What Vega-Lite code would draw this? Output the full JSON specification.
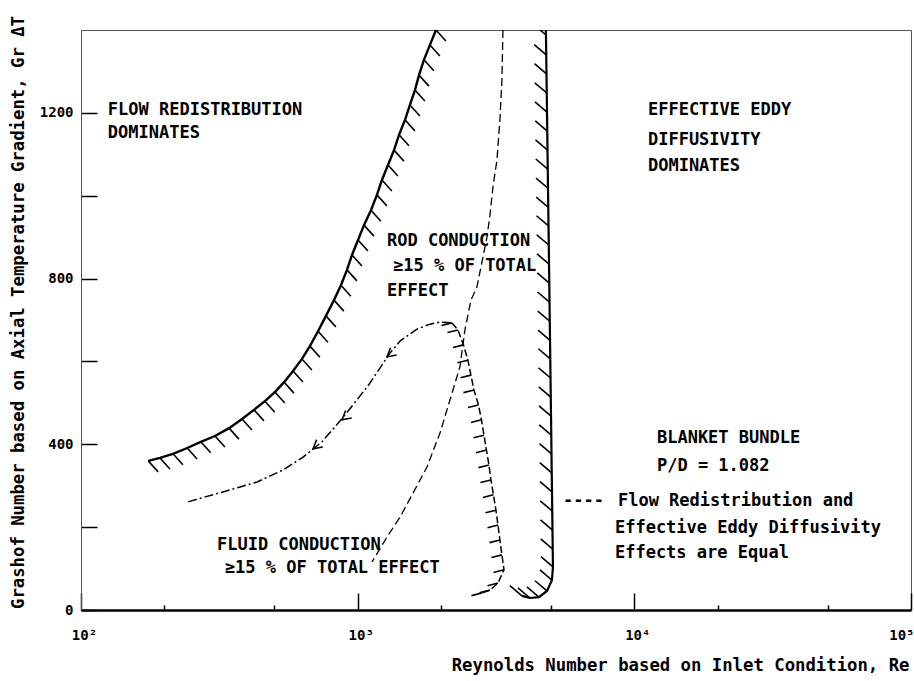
{
  "$schema": "https://vega.github.io/schema/vega-lite/v6.json",
  "width": 830,
  "height": 580,
  "autosize": {"type": "none"},
  "padding": {"left": 81, "top": 30, "right": 3, "bottom": 71},
  "background": "white",
  "config": {
    "view": {"stroke": "#555", "strokeWidth": 1},
    "font": "DejaVu Sans Mono",
    "axis": {"labelFont": "DejaVu Sans Mono", "titleFont": "DejaVu Sans Mono", "labelColor": "black", "titleColor": "black", "titleFontWeight": "bold", "labelFontWeight": "bold", "grid": false}
  },
  "datasets": {
    "redistribution": [
      {"Re": 1919, "Gr": 1400}, {"Re": 1825, "Gr": 1364}, {"Re": 1736, "Gr": 1328}, {"Re": 1666, "Gr": 1291},
      {"Re": 1611, "Gr": 1255}, {"Re": 1545, "Gr": 1219}, {"Re": 1483, "Gr": 1183}, {"Re": 1411, "Gr": 1147},
      {"Re": 1353, "Gr": 1110}, {"Re": 1287, "Gr": 1074}, {"Re": 1224, "Gr": 1038}, {"Re": 1174, "Gr": 1002},
      {"Re": 1117, "Gr": 965}, {"Re": 1054, "Gr": 929}, {"Re": 1003, "Gr": 893}, {"Re": 954, "Gr": 857},
      {"Re": 915, "Gr": 821}, {"Re": 870, "Gr": 784}, {"Re": 821, "Gr": 748}, {"Re": 768, "Gr": 710},
      {"Re": 719, "Gr": 673}, {"Re": 672, "Gr": 637}, {"Re": 629, "Gr": 606}, {"Re": 584, "Gr": 577},
      {"Re": 542, "Gr": 550}, {"Re": 502, "Gr": 526}, {"Re": 462, "Gr": 504}, {"Re": 422, "Gr": 483},
      {"Re": 382, "Gr": 461}, {"Re": 343, "Gr": 439}, {"Re": 305, "Gr": 420}, {"Re": 271, "Gr": 406},
      {"Re": 242, "Gr": 391}, {"Re": 215, "Gr": 377}, {"Re": 193, "Gr": 367}, {"Re": 175, "Gr": 360}
    ],
    "eddy": [
      {"Re": 4790, "Gr": 1400}, {"Re": 4793, "Gr": 1388}, {"Re": 4804, "Gr": 1340}, {"Re": 4814, "Gr": 1294},
      {"Re": 4824, "Gr": 1248}, {"Re": 4834, "Gr": 1202}, {"Re": 4845, "Gr": 1156}, {"Re": 4855, "Gr": 1110},
      {"Re": 4865, "Gr": 1064}, {"Re": 4875, "Gr": 1018}, {"Re": 4886, "Gr": 972}, {"Re": 4896, "Gr": 927},
      {"Re": 4906, "Gr": 881}, {"Re": 4916, "Gr": 835}, {"Re": 4927, "Gr": 789}, {"Re": 4937, "Gr": 743},
      {"Re": 4947, "Gr": 697}, {"Re": 4958, "Gr": 651}, {"Re": 4968, "Gr": 606}, {"Re": 4978, "Gr": 560},
      {"Re": 4988, "Gr": 514}, {"Re": 4999, "Gr": 468}, {"Re": 5009, "Gr": 422}, {"Re": 5019, "Gr": 377},
      {"Re": 5029, "Gr": 331}, {"Re": 5040, "Gr": 285}, {"Re": 5050, "Gr": 239}, {"Re": 5060, "Gr": 193},
      {"Re": 5070, "Gr": 147}, {"Re": 5080, "Gr": 104}, {"Re": 5037, "Gr": 72}, {"Re": 4833, "Gr": 46},
      {"Re": 4520, "Gr": 31}, {"Re": 4195, "Gr": 29}, {"Re": 3924, "Gr": 34}
    ],
    "fluid": [
      {"Re": 3350, "Gr": 1400}, {"Re": 3322, "Gr": 1279}, {"Re": 3267, "Gr": 1183}, {"Re": 3187, "Gr": 1086},
      {"Re": 3083, "Gr": 1021}, {"Re": 3007, "Gr": 953}, {"Re": 2933, "Gr": 900}, {"Re": 2813, "Gr": 840},
      {"Re": 2699, "Gr": 780}, {"Re": 2567, "Gr": 748}, {"Re": 2442, "Gr": 676}, {"Re": 2342, "Gr": 587},
      {"Re": 2156, "Gr": 507}, {"Re": 1984, "Gr": 427}, {"Re": 1780, "Gr": 345}, {"Re": 1585, "Gr": 282},
      {"Re": 1422, "Gr": 224}, {"Re": 1276, "Gr": 176}, {"Re": 1127, "Gr": 116}
    ],
    "rodRising": [
      {"Re": 244, "Gr": 261}, {"Re": 281, "Gr": 273}, {"Re": 326, "Gr": 285}, {"Re": 376, "Gr": 297},
      {"Re": 433, "Gr": 309}, {"Re": 537, "Gr": 338}, {"Re": 635, "Gr": 369}, {"Re": 743, "Gr": 406},
      {"Re": 863, "Gr": 456}, {"Re": 994, "Gr": 507}, {"Re": 1108, "Gr": 548}, {"Re": 1204, "Gr": 584},
      {"Re": 1308, "Gr": 620}, {"Re": 1422, "Gr": 649}, {"Re": 1638, "Gr": 678}, {"Re": 1825, "Gr": 690},
      {"Re": 1984, "Gr": 695}, {"Re": 2192, "Gr": 693}
    ],
    "rodFalling": [
      {"Re": 2192, "Gr": 693}, {"Re": 2304, "Gr": 676}, {"Re": 2412, "Gr": 640}, {"Re": 2503, "Gr": 603},
      {"Re": 2567, "Gr": 567}, {"Re": 2632, "Gr": 531}, {"Re": 2733, "Gr": 495}, {"Re": 2802, "Gr": 459},
      {"Re": 2861, "Gr": 422}, {"Re": 2921, "Gr": 386}, {"Re": 2982, "Gr": 350}, {"Re": 3032, "Gr": 314},
      {"Re": 3096, "Gr": 278}, {"Re": 3161, "Gr": 241}, {"Re": 3215, "Gr": 205}, {"Re": 3267, "Gr": 169},
      {"Re": 3322, "Gr": 133}, {"Re": 3380, "Gr": 97}, {"Re": 3215, "Gr": 65}, {"Re": 3007, "Gr": 48},
      {"Re": 2813, "Gr": 41}
    ],
    "rodArrows": [
      {"Re": 690, "Gr": 389}, {"Re": 878, "Gr": 459}, {"Re": 1276, "Gr": 611}
    ],
    "notes": [
      {"Re": 125, "Gr": 1226, "text": "FLOW REDISTRIBUTION"},
      {"Re": 125, "Gr": 1171, "text": "DOMINATES"},
      {"Re": 11200, "Gr": 1226, "text": "EFFECTIVE EDDY"},
      {"Re": 11200, "Gr": 1154, "text": "DIFFUSIVITY"},
      {"Re": 11200, "Gr": 1091, "text": "DOMINATES"},
      {"Re": 1276, "Gr": 910, "text": "ROD CONDUCTION"},
      {"Re": 1342, "Gr": 850, "text": "≥15 % OF TOTAL"},
      {"Re": 1276, "Gr": 789, "text": "EFFECT"},
      {"Re": 310, "Gr": 176, "text": "FLUID CONDUCTION"},
      {"Re": 331, "Gr": 121, "text": "≥15 % OF TOTAL EFFECT"},
      {"Re": 12070, "Gr": 434, "text": "BLANKET BUNDLE"},
      {"Re": 12070, "Gr": 367, "text": "P/D = 1.082"},
      {"Re": 5521, "Gr": 282, "text": "----"},
      {"Re": 8725, "Gr": 282, "text": "Flow Redistribution and"},
      {"Re": 8510, "Gr": 217, "text": "Effective Eddy Diffusivity"},
      {"Re": 8510, "Gr": 157, "text": "Effects are Equal"}
    ]
  },
  "encoding": {
    "x": {
      "field": "Re",
      "type": "quantitative",
      "scale": {"type": "log", "domain": [100, 100000], "nice": false},
      "axis": {
        "title": "Reynolds Number based on Inlet Condition, Re",
        "titleFontSize": 17.3,
        "titleAnchor": "end",
        "titleAlign": "right",
        "titleBaseline": "alphabetic",
        "titleX": 828,
        "titleY": 60,
        "values": [100, 200, 500, 1000, 2000, 5000, 10000, 20000, 50000, 100000],
        "labelExpr": "datum.value == 100 ? '10²' : datum.value == 1000 ? '10³' : datum.value == 10000 ? '10⁴' : datum.value == 100000 ? '10⁵' : ''",
        "labelFontSize": 14,
        "labelBaseline": "top",
        "labelPadding": 35,
        "labelOffset": 3,
        "labelFlush": false,
        "labelOverlap": false,
        "labelBound": false,
        "labelAlign": {"condition": {"test": "datum.value >= 100000", "value": "right"}, "value": "center"},
        "tickSize": {"condition": {"test": "datum.value == 100 || datum.value == 1000 || datum.value == 10000 || datum.value == 100000", "value": -17}, "value": -5},
        "tickColor": "black",
        "tickWidth": 1.5,
        "domainColor": "black",
        "domainWidth": 2.5
      }
    },
    "y": {
      "field": "Gr",
      "type": "quantitative",
      "scale": {"domain": [0, 1400], "nice": false},
      "axis": {
        "title": "Grashof Number based on Axial Temperature Gradient, Gr ΔT",
        "titleFontSize": 17.3,
        "titleAngle": -90,
        "titleAlign": "center",
        "titleBaseline": "middle",
        "titleX": -63,
        "titleY": 282,
        "values": [0, 200, 400, 600, 800, 1000, 1200],
        "labelExpr": "datum.value % 400 == 0 ? '' + datum.value : ''",
        "labelFontSize": 14,
        "labelPadding": 24,
        "tickSize": -16,
        "tickColor": "black",
        "tickWidth": 1.5,
        "domainColor": "#555",
        "domainWidth": 1
      }
    }
  },
  "layer": [
    {
      "data": {"values": [{}]},
      "mark": {"type": "rule", "stroke": "black", "strokeWidth": 2.5},
      "encoding": {"x": null, "y": {"datum": 1400, "type": "quantitative"}}
    },
    {
      "data": {"name": "redistribution"},
      "transform": [{"window": [{"op": "row_number", "as": "seq"}]}],
      "mark": {"type": "line", "stroke": "black", "strokeWidth": 2.4},
      "encoding": {"order": {"field": "seq", "type": "quantitative"}}
    },
    {
      "data": {"name": "redistribution"},
      "mark": {"type": "point", "shape": "M0,0L0.9,1", "size": 484, "filled": false, "stroke": "black", "strokeWidth": 1.6, "opacity": 1, "clip": true}
    },
    {
      "data": {"name": "eddy"},
      "transform": [{"window": [{"op": "row_number", "as": "seq"}]}],
      "mark": {"type": "line", "stroke": "black", "strokeWidth": 2.2},
      "encoding": {"order": {"field": "seq", "type": "quantitative"}}
    },
    {
      "data": {"name": "eddy"},
      "mark": {"type": "point", "shape": "M0,0L-1,-0.85", "size": 576, "filled": false, "stroke": "black", "strokeWidth": 1.6, "opacity": 1, "clip": true}
    },
    {
      "data": {"name": "fluid"},
      "transform": [{"window": [{"op": "row_number", "as": "seq"}]}],
      "mark": {"type": "line", "stroke": "black", "strokeWidth": 1.3, "strokeDash": [8, 4]},
      "encoding": {"order": {"field": "seq", "type": "quantitative"}}
    },
    {
      "data": {"name": "rodRising"},
      "transform": [{"window": [{"op": "row_number", "as": "seq"}]}],
      "mark": {"type": "line", "stroke": "black", "strokeWidth": 1.5, "strokeDash": [9, 3, 2, 3]},
      "encoding": {"order": {"field": "seq", "type": "quantitative"}}
    },
    {
      "data": {"name": "rodFalling"},
      "transform": [{"window": [{"op": "row_number", "as": "seq"}]}],
      "mark": {"type": "line", "stroke": "black", "strokeWidth": 1.5, "strokeDash": [7, 3]},
      "encoding": {"order": {"field": "seq", "type": "quantitative"}}
    },
    {
      "data": {"name": "rodFalling"},
      "mark": {"type": "point", "shape": "M0,0L-1,0.25", "size": 440, "filled": false, "stroke": "black", "strokeWidth": 1.6, "opacity": 1}
    },
    {
      "data": {"name": "rodArrows"},
      "mark": {"type": "point", "shape": "M1,-0.55L0,0L1,0.55", "size": 300, "angle": -40, "filled": false, "stroke": "black", "strokeWidth": 1.5, "opacity": 1}
    },
    {
      "data": {"name": "notes"},
      "mark": {"type": "text", "align": "left", "baseline": "top", "font": "DejaVu Sans Mono", "fontSize": 17, "fontWeight": "bold", "color": "black"},
      "encoding": {"text": {"field": "text"}}
    }
  ]
}
